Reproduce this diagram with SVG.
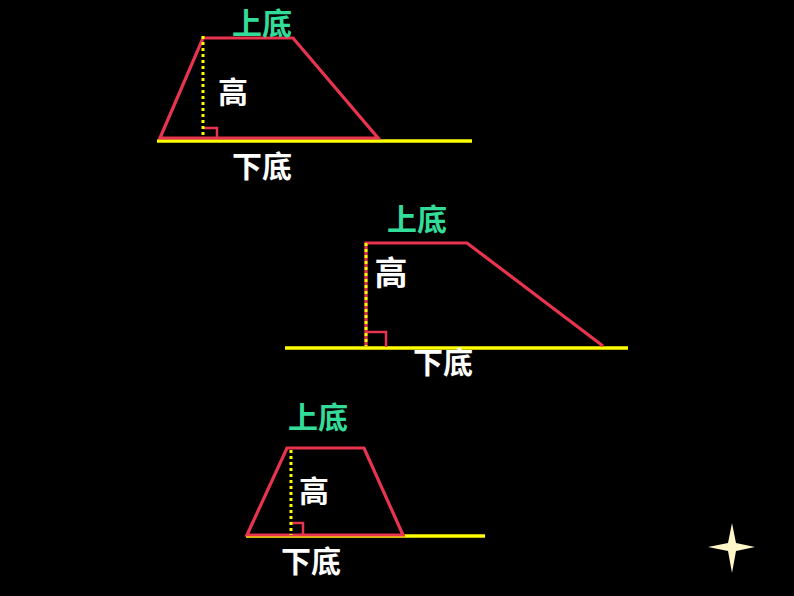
<svg xmlns="http://www.w3.org/2000/svg" width="794" height="596" viewBox="0 0 794 596">
<style>
.edge{fill:none;stroke:#E8344F;stroke-width:3.2;stroke-linejoin:miter}
.base{stroke:#FFFF00;stroke-width:3.5}
.h{stroke:#FFFF00;stroke-width:3;stroke-dasharray:3 3;fill:none}
.ra{fill:none;stroke:#E8344F;stroke-width:2.5}
text{font-family:"Noto Sans CJK SC","Noto Sans",sans-serif;text-anchor:middle;font-weight:bold}
.g{fill:#33DD99;font-size:30px}
.w{fill:#FFFFFF;font-size:30px}
</style>
<rect width="794" height="596" fill="#000"/>
<g id="connectors">
<line class="base" x1="157" y1="141" x2="472" y2="141"/>
<line class="base" x1="285" y1="348" x2="628" y2="348"/>
<line class="base" x1="246" y1="536" x2="485" y2="536"/>
</g>
<g id="trap1">
<polygon class="edge" points="160,138 203,38 293,38 378,138"/>
<path class="ra" d="M203,128 H217 V138"/>
<line class="h" x1="203" y1="36" x2="203" y2="138"/>
<text class="g" x="262" y="34">上底</text>
<text class="w" x="233" y="103">高</text>
<text class="w" x="262" y="177">下底</text>
</g>
<g id="trap2">
<polyline class="edge" points="366,346 366,243 467,243 603,346"/>
<path class="ra" d="M366,332 H386 V347"/>
<line class="h" x1="366" y1="243" x2="366" y2="346"/>
<text class="g" x="417" y="230">上底</text>
<text class="w" x="391" y="285" style="font-size:33px">高</text>
<text class="w" x="443" y="373">下底</text>
</g>
<g id="trap3">
<polygon class="edge" points="247,535 287,448 364,448 403,535"/>
<path class="ra" d="M291,523 H303 V535"/>
<line class="h" x1="291" y1="450" x2="291" y2="535"/>
<text class="g" x="318" y="428">上底</text>
<text class="w" x="314" y="502">高</text>
<text class="w" x="311" y="572">下底</text>
</g>
<g id="star">
<polygon fill="#FFF6C8" points="732,523 736,543 755,547 736,551 732,573 728,551 708,547 728,543"/>
</g>
</svg>
